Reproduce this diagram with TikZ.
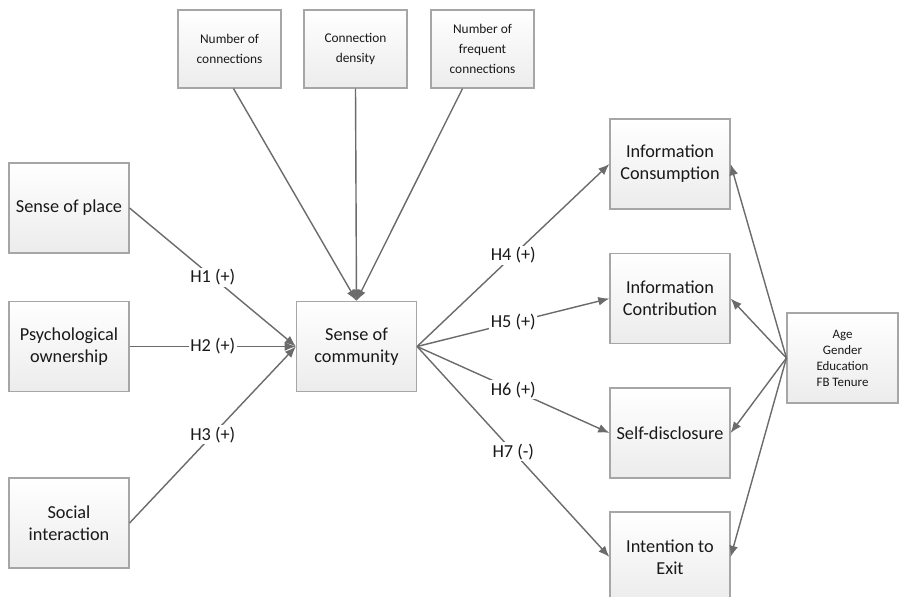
\documentclass[tikz,border=0pt]{standalone}
\usepackage{fontspec}
\setmainfont{Carlito}
\usetikzlibrary{arrows,arrows.meta}

\tikzset{
	box/.style={draw=gray!70, line width=0.8pt, top color=white, bottom color=gray!15,
		minimum width=3cm, minimum height=2.25cm, align=center, inner sep=2pt,
		text=black!90, font=\fontsize{13}{15.6}\selectfont},
	smallbox/.style={box, minimum width=2.575cm, minimum height=1.95cm,
		font=\fontsize{9.5}{14}\selectfont},
	agebox/.style={box, minimum width=2.775cm, font=\fontsize{9.2}{11.4}\selectfont},
	link/.style={-{Latex[length=2.8mm,width=2.2mm]}, draw=black!58, line width=1pt},
	hyp/.style={fill=white, inner sep=1pt, text=black!90, font=\fontsize{13}{15.6}\selectfont},
}

\begin{document}
\begin{tikzpicture}[x=0.025cm, y=-0.025cm]
		\useasboundingbox (0,0) rectangle (899,597);
		% network measures
		\node[smallbox] (nconn) at (229.5,49) {Number of\\connections};
		\node[smallbox] (dens) at (355.5,49) {Connection\\density};
		\node[smallbox] (freq) at (482.5,49) {Number of\\frequent\\connections};
		% antecedents
		\node[box] (place) at (69,208) {Sense of place};
		\node[box] (own) at (69,346.5) {Psychological\\ownership};
		\node[box] (social) at (69,523) {Social\\interaction};
		\node[box] (soc) at (356.5,346.5) {Sense of\\community};
		% outcomes
		\node[box] (cons) at (670,164) {Information\\Consumption};
		\node[box] (contr) at (670,298.5) {Information\\Contribution};
		\node[box] (self) at (670,433) {Self-disclosure};
		\node[box] (exit) at (670,557) {Intention to\\Exit};
		\node[agebox] (ctrl) at (842.5,358) {Age\\Gender\\Education\\FB Tenure};
		
		\draw[link] ([xshift=0.1cm]nconn.south) -- (soc.north);
		\draw[link] (dens.south) -- (soc.north);
		\draw[link] ([xshift=-0.5cm]freq.south) -- (soc.north);
		
		\draw[link] (place.east) -- node[hyp] {H1 (+)} (soc.west);
		\draw[link] (own.east) -- node[hyp] {H2 (+)} (soc.west);
		\draw[link] (social.east) -- node[hyp] {H3 (+)} (soc.west);
		
		\draw[link] (soc.east) -- node[hyp] {H4 (+)} (cons.west);
		\draw[link] (soc.east) -- node[hyp] {H5 (+)} (contr.west);
		\draw[link] (soc.east) -- node[hyp] {H6 (+)} (self.west);
		\draw[link] (soc.east) -- node[hyp] {H7 (-)} (exit.west);
		
		\draw[link] (ctrl.west) -- (cons.east);
		\draw[link] (ctrl.west) -- (contr.east);
		\draw[link] (ctrl.west) -- (self.east);
		\draw[link] (ctrl.west) -- (exit.east);
\end{tikzpicture}
\end{document}
